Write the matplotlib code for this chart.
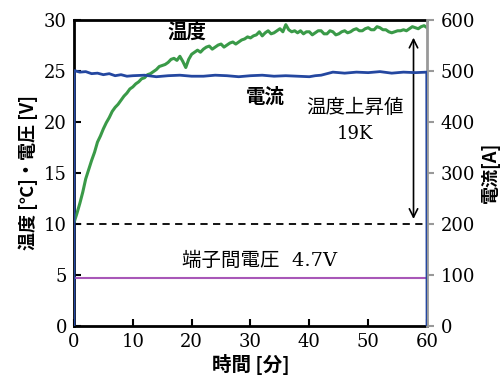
import matplotlib
matplotlib.use("Agg")
import matplotlib.pyplot as plt

plt.rcParams['font.family'] = ['DejaVu Serif', 'Noto Sans CJK JP']

# 時間 [分] (0.5分ごと)
t_min = [i * 0.5 for i in range(121)]
# 温度 [℃]
temp = [10.1, 11.0, 12.0, 13.1, 14.4, 15.3, 16.2, 17.0, 18.0, 18.6,
        19.3, 19.9, 20.4, 21.0, 21.4, 21.7, 22.1, 22.5, 22.8, 23.2,
        23.4, 23.7, 23.9, 24.2, 24.3, 24.6, 24.7, 24.9, 25.1, 25.4,
        25.5, 25.6, 25.8, 26.1, 26.2, 26.0, 26.4, 25.9, 25.3, 26.1,
        26.6, 26.8, 27.0, 26.8, 27.1, 27.3, 27.4, 27.1, 27.3, 27.5,
        27.6, 27.3, 27.5, 27.7, 27.8, 27.6, 27.8, 28.0, 28.1, 28.3,
        28.2, 28.4, 28.5, 28.8, 28.4, 28.7, 28.9, 28.6, 28.7, 28.9,
        29.1, 28.8, 29.5, 29.0, 28.8, 28.9, 28.7, 28.9, 28.6, 28.8,
        28.8, 28.5, 28.7, 28.9, 28.9, 28.6, 28.6, 28.9, 28.8, 28.5,
        28.6, 28.8, 28.9, 28.7, 28.8, 29.0, 29.1, 28.9, 28.9, 29.1,
        29.2, 29.0, 29.0, 29.3, 29.2, 29.0, 29.0, 28.8, 28.7, 28.8,
        28.9, 28.9, 29.0, 28.9, 29.1, 29.3, 29.2, 29.1, 29.3, 29.4,
        29.2]
# 電流 [A]
t_cur = [0, 0.05, 1, 2, 3, 4, 5, 6, 7, 8, 9, 10, 12, 14, 16, 18, 20,
         22, 24, 26, 28, 30, 32, 34, 36, 38, 40, 41, 42, 43, 44, 46,
         48, 50, 52, 54, 56, 58, 59.95, 60]
current = [0, 500, 497, 498, 494, 495, 492, 494, 490, 492, 489, 490,
           491, 488, 490, 491, 489, 489, 491, 490, 488, 490, 491, 489,
           490, 489, 488, 490, 491, 494, 497, 495, 497, 496, 498, 495,
           497, 496, 497, 0]
# 端子間電圧 [V]
t_volt = [0, 60]
voltage = [4.7, 4.7]

fig = plt.figure(figsize=(5.03, 3.83), dpi=100)
ax = fig.add_axes([0.147, 0.149, 0.702, 0.8])
ax2 = ax.twinx()

ax.plot(t_min, temp, color='#3a9a48', lw=2.2, zorder=3)
ax.plot(t_volt, voltage, color='#a857b8', lw=1.5, zorder=3)
ax.plot([0, 60], [10, 10], color='black', lw=1.3, ls=(0, (4, 3)), zorder=3)
ax2.plot(t_cur, current, color='#2447a0', lw=2, zorder=4)

ax.annotate('', xy=(57.7, 28.5), xytext=(57.7, 10.2),
            arrowprops=dict(arrowstyle='<->', color='black', lw=1.2,
                            mutation_scale=15))

ax.set_xlim(0, 60)
ax.set_ylim(0, 30)
ax2.set_ylim(0, 600)
ax.set_xticks(range(0, 61, 10))
ax.set_yticks(range(0, 31, 5))
ax2.set_yticks(range(0, 601, 100))

ax.tick_params(axis='both', direction='in', length=5, width=1.5,
               labelsize=13, pad=5)
ax2.tick_params(axis='y', direction='out', length=5, width=1.5,
                color='#999999', labelsize=13, pad=5)

for s in ['left', 'bottom', 'top']:
    ax.spines[s].set_linewidth(2)
for s in ['left', 'bottom', 'top']:
    ax2.spines[s].set_visible(False)
ax2.spines['right'].set_color('#999999')
ax2.spines['right'].set_linewidth(2)
ax.spines['right'].set_visible(False)

jp = ['Noto Sans CJK JP', 'DejaVu Serif']
mix = ['DejaVu Serif', 'Noto Sans CJK JP']
ax.set_xlabel('時間 [分]', family=jp, fontsize=14, fontweight='bold', labelpad=2)
ax.set_ylabel('温度 [℃]・電圧 [V]', family=jp, fontsize=13, fontweight='bold', labelpad=4)
ax2.set_ylabel('電流[A]', family=jp, fontsize=13, fontweight='bold', labelpad=4)

ax.text(19.2, 28.8, '温度', family=jp, fontsize=14, fontweight='bold',
        ha='center', va='center')
ax.text(32.5, 22.4, '電流', family=jp, fontsize=14, fontweight='bold',
        ha='center', va='center')
ax.text(47.8, 21.4, '温度上昇値', family=jp, fontsize=14,
        ha='center', va='center')
ax.text(47.8, 18.8, '19K', family=mix, fontsize=13,
        ha='center', va='center')
ax.text(31.5, 6.4, '端子間電圧  4.7V', family=mix, fontsize=14,
        ha='center', va='center')

fig.savefig('out.png', dpi=100)
